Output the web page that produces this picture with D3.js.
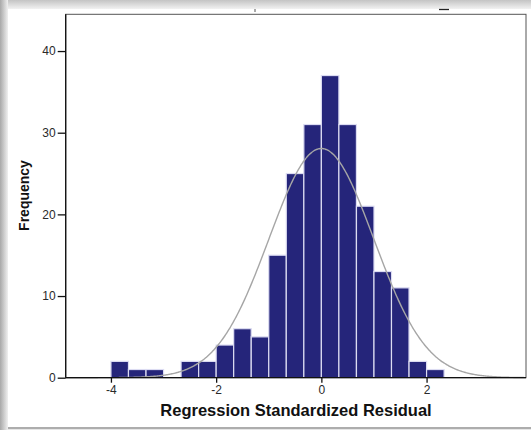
<!DOCTYPE html>
<html>
<head>
<meta charset="utf-8">
<script src="https://cdn.jsdelivr.net/npm/d3@7"></script>
<style>
  html, body { margin: 0; padding: 0; background: #ffffff; }
  svg { display: block; }
  text { font-family: "Liberation Sans", Arial, sans-serif; }
</style>
</head>
<body>
<svg id="chart" width="531" height="430"></svg>
<script>
// ---- data ----
const binStarts = [-4.000, -3.667, -3.333, -3.000, -2.667, -2.333, -2.000, -1.667, -1.333,
                   -1.000, -0.667, -0.333, 0.000, 0.333, 0.667, 1.000, 1.333, 1.667, 2.000];
const counts    = [2, 1, 1, 0, 2, 2, 4, 6, 5, 15, 25, 31, 37, 31, 21, 13, 11, 2, 1];
const binWidth  = 1 / 3;
const xTicks    = [-4, -2, 0, 2];
const yTicks    = [0, 10, 20, 30, 40];
const fitMean   = 0;
const fitSd     = 0.995;
const xLabel    = "Regression Standardized Residual";
const yLabel    = "Frequency";

// ---- layout ----
const W = 531, H = 430;
const plot = { left: 65.7, right: 526, top: 14.3, bottom: 377.7 };

const svg = d3.select("#chart");

// panel background with soft shadow
const defs = svg.append("defs");
const lg = defs.append("linearGradient").attr("id", "gl").attr("x1", 0).attr("x2", 1).attr("y1", 0).attr("y2", 0);
lg.append("stop").attr("offset", 0).attr("stop-color", "#a8a8a8");
lg.append("stop").attr("offset", 1).attr("stop-color", "#f0f0f0");
const gt = defs.append("linearGradient").attr("id", "gt").attr("x1", 0).attr("x2", 0).attr("y1", 0).attr("y2", 1);
gt.append("stop").attr("offset", 0).attr("stop-color", "#c4c4c4");
gt.append("stop").attr("offset", 1).attr("stop-color", "#f2f2f2");

svg.append("rect").attr("x", 0).attr("y", 0).attr("width", W).attr("height", H).attr("fill", "#e6e6e6");
svg.append("rect").attr("x", 0).attr("y", 0).attr("width", W).attr("height", 9).attr("fill", "url(#gt)");
svg.append("rect").attr("x", 0).attr("y", 0).attr("width", 8).attr("height", H).attr("fill", "url(#gl)");
svg.append("rect").attr("x", 8).attr("y", 9).attr("width", W - 8).attr("height", 418).attr("fill", "#ffffff");
svg.append("line").attr("x1", 8).attr("x2", W).attr("y1", 428).attr("y2", 428).attr("stroke", "#9a9a9a").attr("stroke-width", 1.5);

// small remnants of a cropped title at the top
svg.append("line").attr("x1", 439).attr("x2", 449).attr("y1", 9.5).attr("y2", 9.5).attr("stroke", "#222").attr("stroke-width", 1.3);
svg.append("line").attr("x1", 255).attr("x2", 255).attr("y1", 9).attr("y2", 12).attr("stroke", "#555").attr("stroke-width", 1);

// ---- scales ----
const x = d3.scaleLinear().domain([-4.86, 3.89]).range([plot.left, plot.right]);
const y = d3.scaleLinear().domain([0, 44.5]).range([plot.bottom, plot.top]);

// plot frame
svg.append("rect")
  .attr("x", plot.left).attr("y", plot.top)
  .attr("width", plot.right - plot.left).attr("height", plot.bottom - plot.top)
  .attr("fill", "#ffffff").attr("stroke", "#555555").attr("stroke-width", 1);

// bars
const bins = binStarts.map((b, i) => ({ x0: b, x1: b + binWidth, n: counts[i] }));
svg.append("g").selectAll("rect").data(bins.filter(d => d.n > 0)).join("rect")
  .attr("x", d => x(d.x0))
  .attr("y", d => y(d.n))
  .attr("width", d => x(d.x1) - x(d.x0))
  .attr("height", d => y(0) - y(d.n))
  .attr("fill", "#25257a")
  .attr("stroke", "#dcdcf2")
  .attr("stroke-width", 1.2);

// fitted normal curve
const N = d3.sum(counts);
const dens = v => N * binWidth * Math.exp(-0.5 * ((v - fitMean) / fitSd) ** 2) / (fitSd * Math.sqrt(2 * Math.PI));
const xs = d3.range(x.domain()[0], x.domain()[1] + 1e-9, 0.02);
svg.append("path")
  .datum(xs)
  .attr("fill", "none")
  .attr("stroke", "#a6a6a6")
  .attr("stroke-width", 1.4)
  .attr("d", d3.line().x(v => x(v)).y(v => y(dens(v))).curve(d3.curveBasis));

// axes
const xAxis = d3.axisBottom(x).tickValues(xTicks).tickSize(5).tickPadding(3).tickFormat(d3.format("d"));
const gx = svg.append("g").attr("transform", `translate(0,${plot.bottom})`).call(xAxis);
gx.select(".domain").attr("stroke", "#111").attr("stroke-width", 1.3).attr("d", `M${plot.left},0H${plot.right}`);
gx.selectAll(".tick line").attr("stroke", "#111").attr("stroke-width", 1.3);
gx.selectAll(".tick text").attr("font-size", 12).attr("fill", "#2a2a2a")
  .attr("font-family", "'Liberation Sans', Arial, sans-serif")
  .text(d => d < 0 ? "-" + Math.abs(d) : d);

const yAxis = d3.axisLeft(y).tickValues(yTicks).tickSize(8).tickPadding(2).tickFormat(d3.format("d"));
const gy = svg.append("g").attr("transform", `translate(${plot.left},0)`).call(yAxis);
gy.select(".domain").attr("stroke", "#111").attr("stroke-width", 1.3).attr("d", `M0,${plot.top}V${plot.bottom}`);
gy.selectAll(".tick line").attr("stroke", "#111").attr("stroke-width", 1.3);
gy.selectAll(".tick text").attr("font-size", 12).attr("fill", "#2a2a2a")
  .attr("font-family", "'Liberation Sans', Arial, sans-serif");

// axis titles
svg.append("text")
  .attr("x", 296).attr("y", 415.5)
  .attr("text-anchor", "middle")
  .attr("font-size", 16.5).attr("font-weight", "bold").attr("fill", "#111")
  .text(xLabel);

svg.append("text")
  .attr("transform", `translate(29,195.5) rotate(-90)`)
  .attr("text-anchor", "middle")
  .attr("font-size", 14).attr("font-weight", "bold").attr("fill", "#111")
  .text(yLabel);
</script>
</body>
</html>
